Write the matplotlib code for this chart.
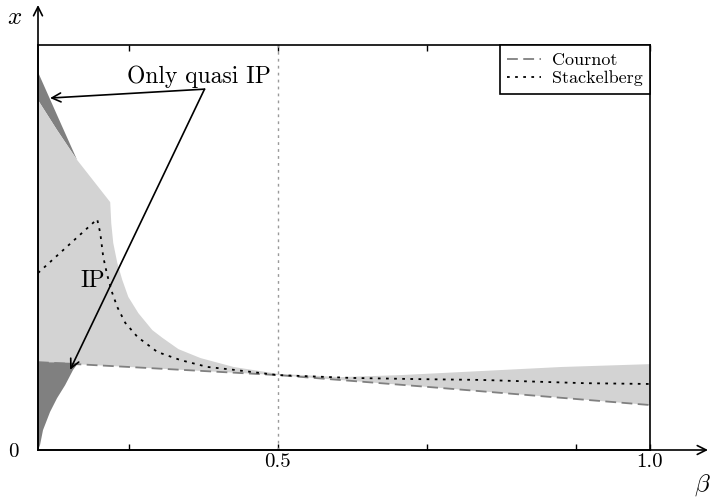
import matplotlib
matplotlib.use("Agg")
import matplotlib.pyplot as plt
import numpy as np

plt.rcParams['font.family'] = 'serif'
plt.rcParams['font.serif'] = ['cmr10', 'DejaVu Serif']
plt.rcParams['mathtext.fontset'] = 'cm'
plt.rcParams['axes.formatter.use_mathtext'] = True

# ---- data ----
cournot_beta = [0.1779, 0.3, 0.5, 0.7, 0.9, 1.0]
cournot_x = [0.217, 0.205, 0.185, 0.156, 0.126, 0.111]

stack_beta = [0.1779, 0.2574, 0.2615, 0.2655, 0.2709, 0.2776, 0.2844, 0.2951, 0.3116,
              0.3383, 0.3693, 0.4057, 0.4407, 0.5, 0.598, 0.689, 0.7736, 0.912, 1.0]
stack_x = [0.437, 0.570, 0.536, 0.477, 0.432, 0.388, 0.353, 0.314, 0.279,
           0.242, 0.222, 0.205, 0.198, 0.185, 0.178, 0.175, 0.173, 0.165, 0.163]

# outer upper boundary (quasi IP strip, top-left)
outer_beta = [0.1779, 0.2035, 0.2305]
outer_x = [0.933, 0.827, 0.716]
# IP upper boundary
ip_top_beta = [0.1779, 0.2035, 0.2305, 0.2749, 0.2763, 0.2790, 0.2844, 0.2911, 0.2992,
               0.3127, 0.3315, 0.3450, 0.3666, 0.3962, 0.4407, 0.5, 0.5849, 0.6658,
               0.7736, 0.8814, 1.0]
ip_top_x = [0.864, 0.790, 0.716, 0.612, 0.560, 0.511, 0.462, 0.420, 0.378,
            0.338, 0.296, 0.277, 0.249, 0.227, 0.205, 0.188, 0.180, 0.185,
            0.195, 0.205, 0.212]
# lower quasi IP region boundary curve
low_beta = [0.1779, 0.1806, 0.1846, 0.1941, 0.2035, 0.2143, 0.2251, 0.2318]
low_x = [0.0, 0.012, 0.049, 0.094, 0.128, 0.160, 0.198, 0.215]

xticks = [0.3, 0.5, 0.7, 0.9, 1.0]
xtick_labels = ['', '0.5', '', '', '1.0']

LIGHT = '#d3d3d3'
DARK = '#808080'

fig = plt.figure(figsize=(7.13, 5.0), dpi=100)
ax = fig.add_axes([38/713, 0.1, (650-38)/713, (450-45)/500])

# dark upper strip
poly_b = outer_beta + ip_top_beta[:3][::-1]
poly_x = outer_x + ip_top_x[:3][::-1]
ax.fill(poly_b, poly_x, color=DARK, lw=0)

# light IP region
poly_b = ip_top_beta + cournot_beta[::-1]
poly_x = ip_top_x + cournot_x[::-1]
ax.fill(poly_b, poly_x, color=LIGHT, lw=0)

# dark lower region
poly_b = low_beta + [cournot_beta[0]]
poly_x = low_x + [cournot_x[0]]
ax.fill(poly_b, poly_x, color=DARK, lw=0)

ax.axvline(0.5, color='#999999', lw=1.0, ls=(0, (2, 3)))

ax.plot(cournot_beta, cournot_x, color='#808080', lw=1.3, ls=(0, (6, 3)), label='Cournot')
ax.plot(stack_beta, stack_x, color='black', lw=1.3, ls=(0, (1.5, 3)), label='Stackelberg')

ax.set_xlim(0.1779, 1.0)
ax.set_ylim(0, 1)
ax.set_xticks(xticks)
ax.set_xticklabels(xtick_labels, fontsize=15)
ax.set_yticks([0])
ax.set_yticklabels(['0'], fontsize=15)
ax.tick_params(axis='x', direction='in', top=True, length=4, width=1, pad=2)
ax.tick_params(axis='y', length=0, pad=14)
for s in ax.spines.values():
    s.set_linewidth(1.2)

leg = ax.legend(loc='upper right', fontsize=13, frameon=True, fancybox=False,
                edgecolor='black', framealpha=1, borderaxespad=0, handlelength=1.9,
                borderpad=0.4, labelspacing=0.15, handletextpad=0.6)
leg.get_frame().set_linewidth(1.2)

# annotations
ap = dict(arrowstyle='->', color='black', lw=1.2, mutation_scale=16, shrinkA=0, shrinkB=0)
ax.annotate('', xy=(0.1941, 0.869), xytext=(0.4016, 0.891), arrowprops=ap)
ax.annotate('', xy=(0.2210, 0.198), xytext=(0.4016, 0.891), arrowprops=ap)
ax.text(0.2978, 0.906, 'Only quasi IP', fontsize=17, ha='left', va='baseline')
ax.text(0.2345, 0.402, 'IP', fontsize=17, ha='left', va='baseline')

# axis arrows
fig.add_artist(matplotlib.patches.FancyArrowPatch((38/713, 0.1), (38/713, 0.99),
               transform=fig.transFigure, arrowstyle='->', mutation_scale=16, lw=1.2,
               color='black', shrinkA=0, shrinkB=0))
fig.add_artist(matplotlib.patches.FancyArrowPatch((38/713, 0.1), (708/713, 0.1),
               transform=fig.transFigure, arrowstyle='->', mutation_scale=16, lw=1.2,
               color='black', shrinkA=0, shrinkB=0))
fig.text(15/713, 1-18/500, r'$x$', fontsize=18, ha='center', va='center')
fig.text(711/713, 1-485/500, r'$\beta$', fontsize=18, ha='right', va='center')

fig.savefig('out.png', dpi=100)
